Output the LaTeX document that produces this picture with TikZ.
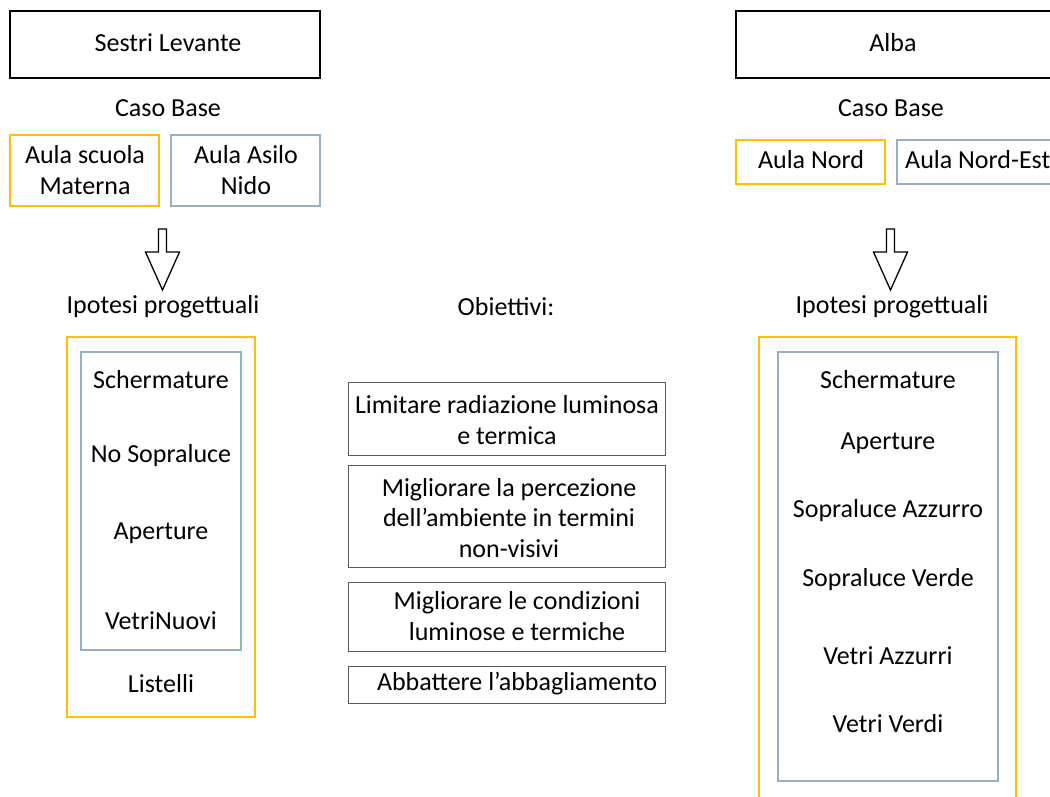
\documentclass[tikz,border=0pt]{standalone}
\usepackage{fontspec}
\setmainfont{Carlito}
\definecolor{gold}{HTML}{FFC000}
\definecolor{bgray}{HTML}{96AEC6}
\definecolor{dgray}{HTML}{595959}
\begin{document}
\begin{tikzpicture}[x=1pt,y=-1pt,
  every node/.style={font=\fontsize{26}{30.5}\selectfont, inner sep=0pt, align=center},
  blackbox/.style={draw=black, line width=2pt},
  goldbox/.style={draw=gold, line width=1.6pt},
  bluebox/.style={draw=bgray, line width=1.6pt},
  objbox/.style={draw=dgray, line width=1pt},
  hollowarrow/.style={draw=black, line width=1.3pt, fill=white, line join=miter}]
\clip (0,0) rectangle (1050,796);
\fill[white] (0,0) rectangle (1050,796);

% ---------- left column ----------
\draw[blackbox] (10,11) rectangle (320,78);
\node (sestri) at (168,43) {Sestri Levante};
\node (cb1) at (168,108) {Caso Base};
\draw[goldbox] (10,135) rectangle (159,206);
\node (materna) at (85,170) {Aula scuola\\Materna};
\draw[bluebox] (171,135) rectangle (320,206);
\node (nido) at (246,170) {Aula Asilo\\Nido};
\draw[hollowarrow] (158.5,229) -- (166.5,229) -- (166.5,252) -- (179.5,252) -- (162.5,290) -- (145.5,252) -- (158.5,252) -- cycle;
\node (ip1) at (163,307) {Ipotesi progettuali};
\draw[goldbox] (67,337) rectangle (255,717);
\draw[bluebox] (81,352) rectangle (241,650);
\node (l1) at (161,380) {Schermature};
\node (l2) at (161,456) {No Sopraluce};
\node (l3) at (161,533) {Aperture};
\node (l4) at (161,621) {VetriNuovi};
\node (l5) at (161,684) {Listelli};

% ---------- middle column ----------
\node (obj) at (506,307) {Obiettivi:};
\draw[objbox] (348,382) rectangle (665,455);
\node (o1) at (507,420) {Limitare radiazione luminosa\\e termica};
\draw[objbox] (348,465) rectangle (665,567);
\node (o2) at (509,518) {Migliorare la percezione\\dell’ambiente in termini\\non-visivi};
\draw[objbox] (348,582) rectangle (665,651);
\node (o3) at (517,616) {Migliorare le condizioni\\luminose e termiche};
\draw[objbox] (348,666) rectangle (665,703);
\node (o4) at (517,684) {Abbattere l’abbagliamento};

% ---------- right column ----------
\draw[blackbox] (736,11) rectangle (1052,78);
\node (alba) at (893,43) {Alba};
\node (cb2) at (891,108) {Caso Base};
\draw[goldbox] (736,140) rectangle (885,184);
\node (nord) at (811,160) {Aula Nord};
\draw[bluebox] (897,140) rectangle (1060,184);
\node[anchor=west] (nordest) at (905,160) {Aula Nord-Est};
\draw[hollowarrow] (886.5,229) -- (894.5,229) -- (894.5,252) -- (907.5,252) -- (890.5,290) -- (873.5,252) -- (886.5,252) -- cycle;
\node (ip2) at (892,307) {Ipotesi progettuali};
\draw[goldbox] (759,337) rectangle (1016,810);
\draw[bluebox] (778,352) rectangle (998,781);
\node (r1) at (888,380) {Schermature};
\node (r2) at (888,443) {Aperture};
\node (r3) at (888,511) {Sopraluce Azzurro};
\node (r4) at (888,580) {Sopraluce Verde};
\node (r5) at (888,656) {Vetri Azzurri};
\node (r6) at (888,724) {Vetri Verdi};
\end{tikzpicture}
\end{document}
